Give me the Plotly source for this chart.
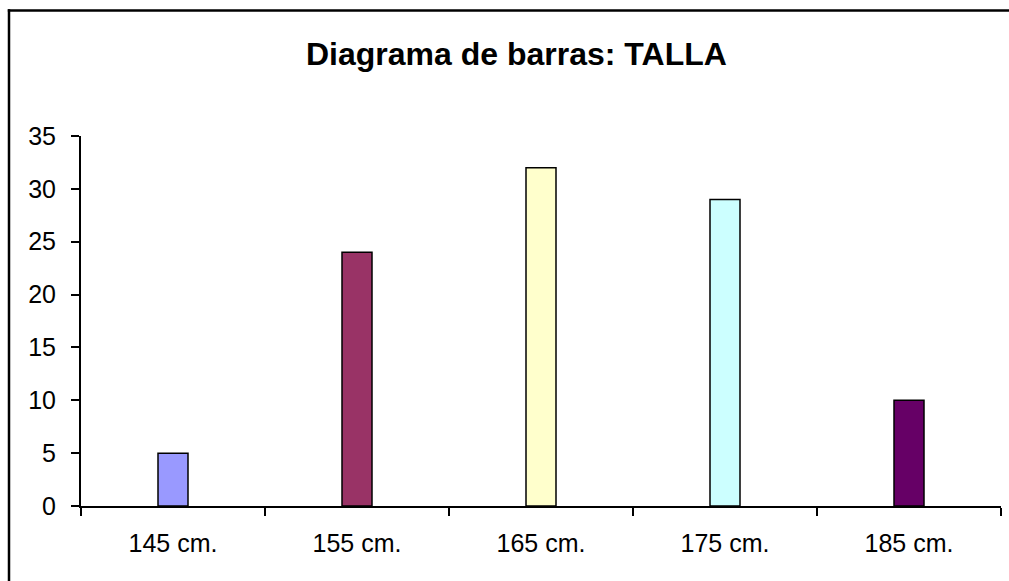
import plotly.graph_objects as go

categories = ["145 cm.", "155 cm.", "165 cm.", "175 cm.", "185 cm."]
values = [5, 24, 32, 29, 10]
colors = ["#9999FF", "#993366", "#FFFFCC", "#CCFFFF", "#660066"]
y_ticks = [0, 5, 10, 15, 20, 25, 30, 35]

W, H = 1009, 581
L, T = 81, 136
R, B = W - 1001, H - 506
pw, ph = W - L - R, H - T - B

def px_x(p):
    return (p - L) / pw

def px_y(p):
    return (H - B - p) / ph

fig = go.Figure(go.Bar(
    x=categories, y=values, width=0.163,
    marker=dict(color=colors, line=dict(color="black", width=1.5)),
))

font = "Liberation Sans, Arial, sans-serif"
frame = dict(color="black", width=2.5)
fig.update_layout(
    width=W, height=H,
    margin=dict(l=L, r=R, t=T, b=B, pad=0),
    paper_bgcolor="white", plot_bgcolor="white",
    showlegend=False,
    font=dict(family=font, size=25, color="black"),
    xaxis=dict(type="category", tickson="boundaries", ticks="outside", ticklen=8,
               tickwidth=1.5, tickcolor="black", showline=True, linecolor="black",
               linewidth=2, showgrid=False, tickfont=dict(size=25), ticklabelstandoff=14),
    yaxis=dict(range=[0, 35], tickvals=y_ticks, ticks="outside", ticklen=8,
               tickwidth=1.5, tickcolor="black", showline=True, linecolor="black",
               linewidth=2, showgrid=False, zeroline=False, tickfont=dict(size=25),
               ticklabelstandoff=10),
    shapes=[
        dict(type="line", xref="paper", yref="paper",
             x0=px_x(9), x1=px_x(9), y0=px_y(581), y1=px_y(9.3), line=frame, layer="above"),
        dict(type="line", xref="paper", yref="paper",
             x0=px_x(7.8), x1=px_x(1009), y0=px_y(10.5), y1=px_y(10.5), line=frame, layer="above"),
    ],
    annotations=[dict(text="<b>Diagrama de barras: TALLA</b>", xref="paper", yref="paper",
                      x=px_x(516), y=px_y(54), xanchor="center", yanchor="middle",
                      showarrow=False, font=dict(size=32, family=font, color="black"))],
)

fig.write_html(
    "out.html",
    config={"displayModeBar": False},
    post_script="document.body.style.margin='0';"
                "document.body.style.overflow='hidden';"
                "document.documentElement.style.overflow='hidden';",
)
